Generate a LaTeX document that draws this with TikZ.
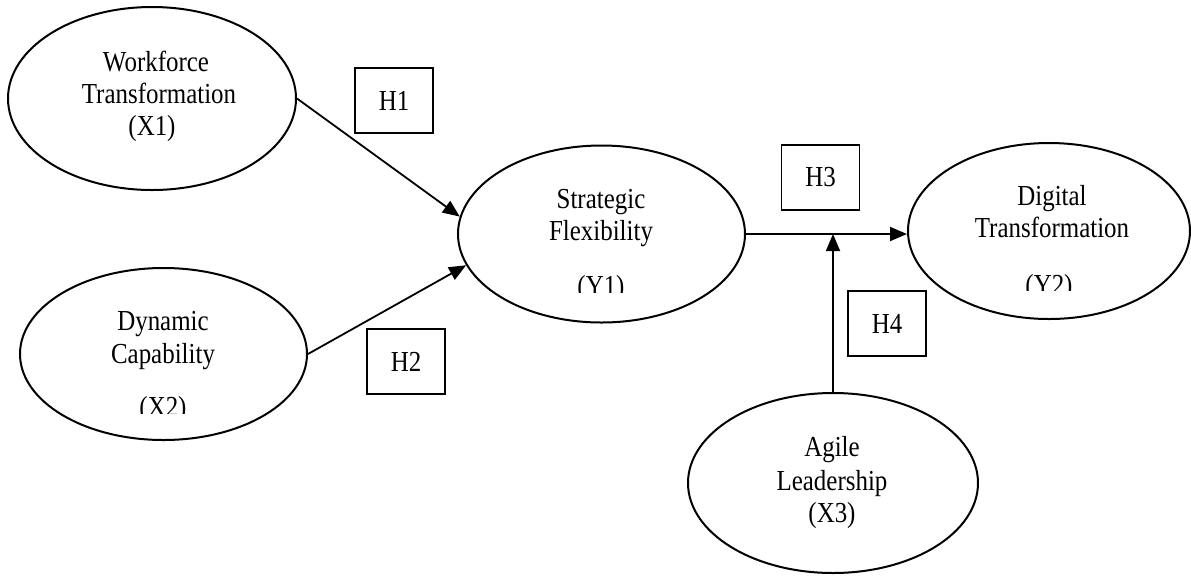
\documentclass[tikz,border=0pt]{standalone}
\usepackage{fontspec}
\setmainfont{Liberation Serif}[FakeStretch=0.86]
\usetikzlibrary{shapes.geometric,arrows.meta}
\begin{document}
\begin{tikzpicture}[x=0.5pt,y=-0.5pt,
  construct/.style={ellipse,draw,line width=1pt,inner sep=0pt},
  hypbox/.style={draw,line width=0.9pt,minimum width=39pt,minimum height=32.5pt,inner sep=0pt,font=\fontsize{14.5}{16}\selectfont},
  lbl/.style={anchor=base,inner sep=0pt,font=\fontsize{14.5}{16}\selectfont},
  link/.style={line width=0.9pt,-{Triangle[length=8.5pt,width=7pt]}}]
\useasboundingbox (0,0) rectangle (1191,575);
% constructs
\node[construct,minimum width=144pt,minimum height=91.5pt] (X1) at (152,98.5) {};
\node[construct,minimum width=143.5pt,minimum height=86pt] (X2) at (163.5,354) {};
\node[construct,minimum width=143.5pt,minimum height=88.5pt] (Y1) at (601.5,234) {};
\node[construct,minimum width=141pt,minimum height=88pt] (Y2) at (1049,231) {};
\node[construct,minimum width=145pt,minimum height=90pt] (X3) at (833,483) {};
% labels
\node[lbl] (x1a) at (156,71) {Workforce};
\node[lbl] (x1b) at (159,103) {Transformation};
\node[lbl] (x1c) at (152,135) {(X1)};
\node[lbl] (x2a) at (163,330) {Dynamic};
\node[lbl] (x2b) at (163,363) {Capability};
\begin{scope}
\clip (100,380) rectangle (230,413);
\node[lbl] (x2c) at (163,416) {(X2)};
\end{scope}
\node[lbl] (y1a) at (601,208) {Strategic};
\node[lbl] (y1b) at (601,240) {Flexibility};
\begin{scope}
\clip (540,260) rectangle (660,292);
\node[lbl] (y1c) at (601,295) {(Y1)};
\end{scope}
\node[lbl] (y2a) at (1052,205) {Digital};
\node[lbl] (y2b) at (1052,237) {Transformation};
\begin{scope}
\clip (990,260) rectangle (1110,290);
\node[lbl] (y2c) at (1049,294) {(Y2)};
\end{scope}
\node[lbl] (x3a) at (832,456) {Agile};
\node[lbl] (x3b) at (832,490) {Leadership};
\node[lbl] (x3c) at (832,522) {(X3)};
% hypothesis boxes
\node[hypbox] (H1) at (394,100.5) {H1};
\node[hypbox] (H2) at (406,361.5) {H2};
\node[hypbox] (H3) at (820.5,177.5) {H3};
\node[hypbox] (H4) at (887,323.5) {H4};
% connectors
\coordinate (j) at (833,234);
\draw[link] (X1.east) -- (Y1.173);
\draw[link] (X2.east) -- (Y1.193);
\draw[link] (Y1.east) -- (Y1.east -| Y2.west);
\draw[link] (X3.north) -- (j);
\end{tikzpicture}
\end{document}
